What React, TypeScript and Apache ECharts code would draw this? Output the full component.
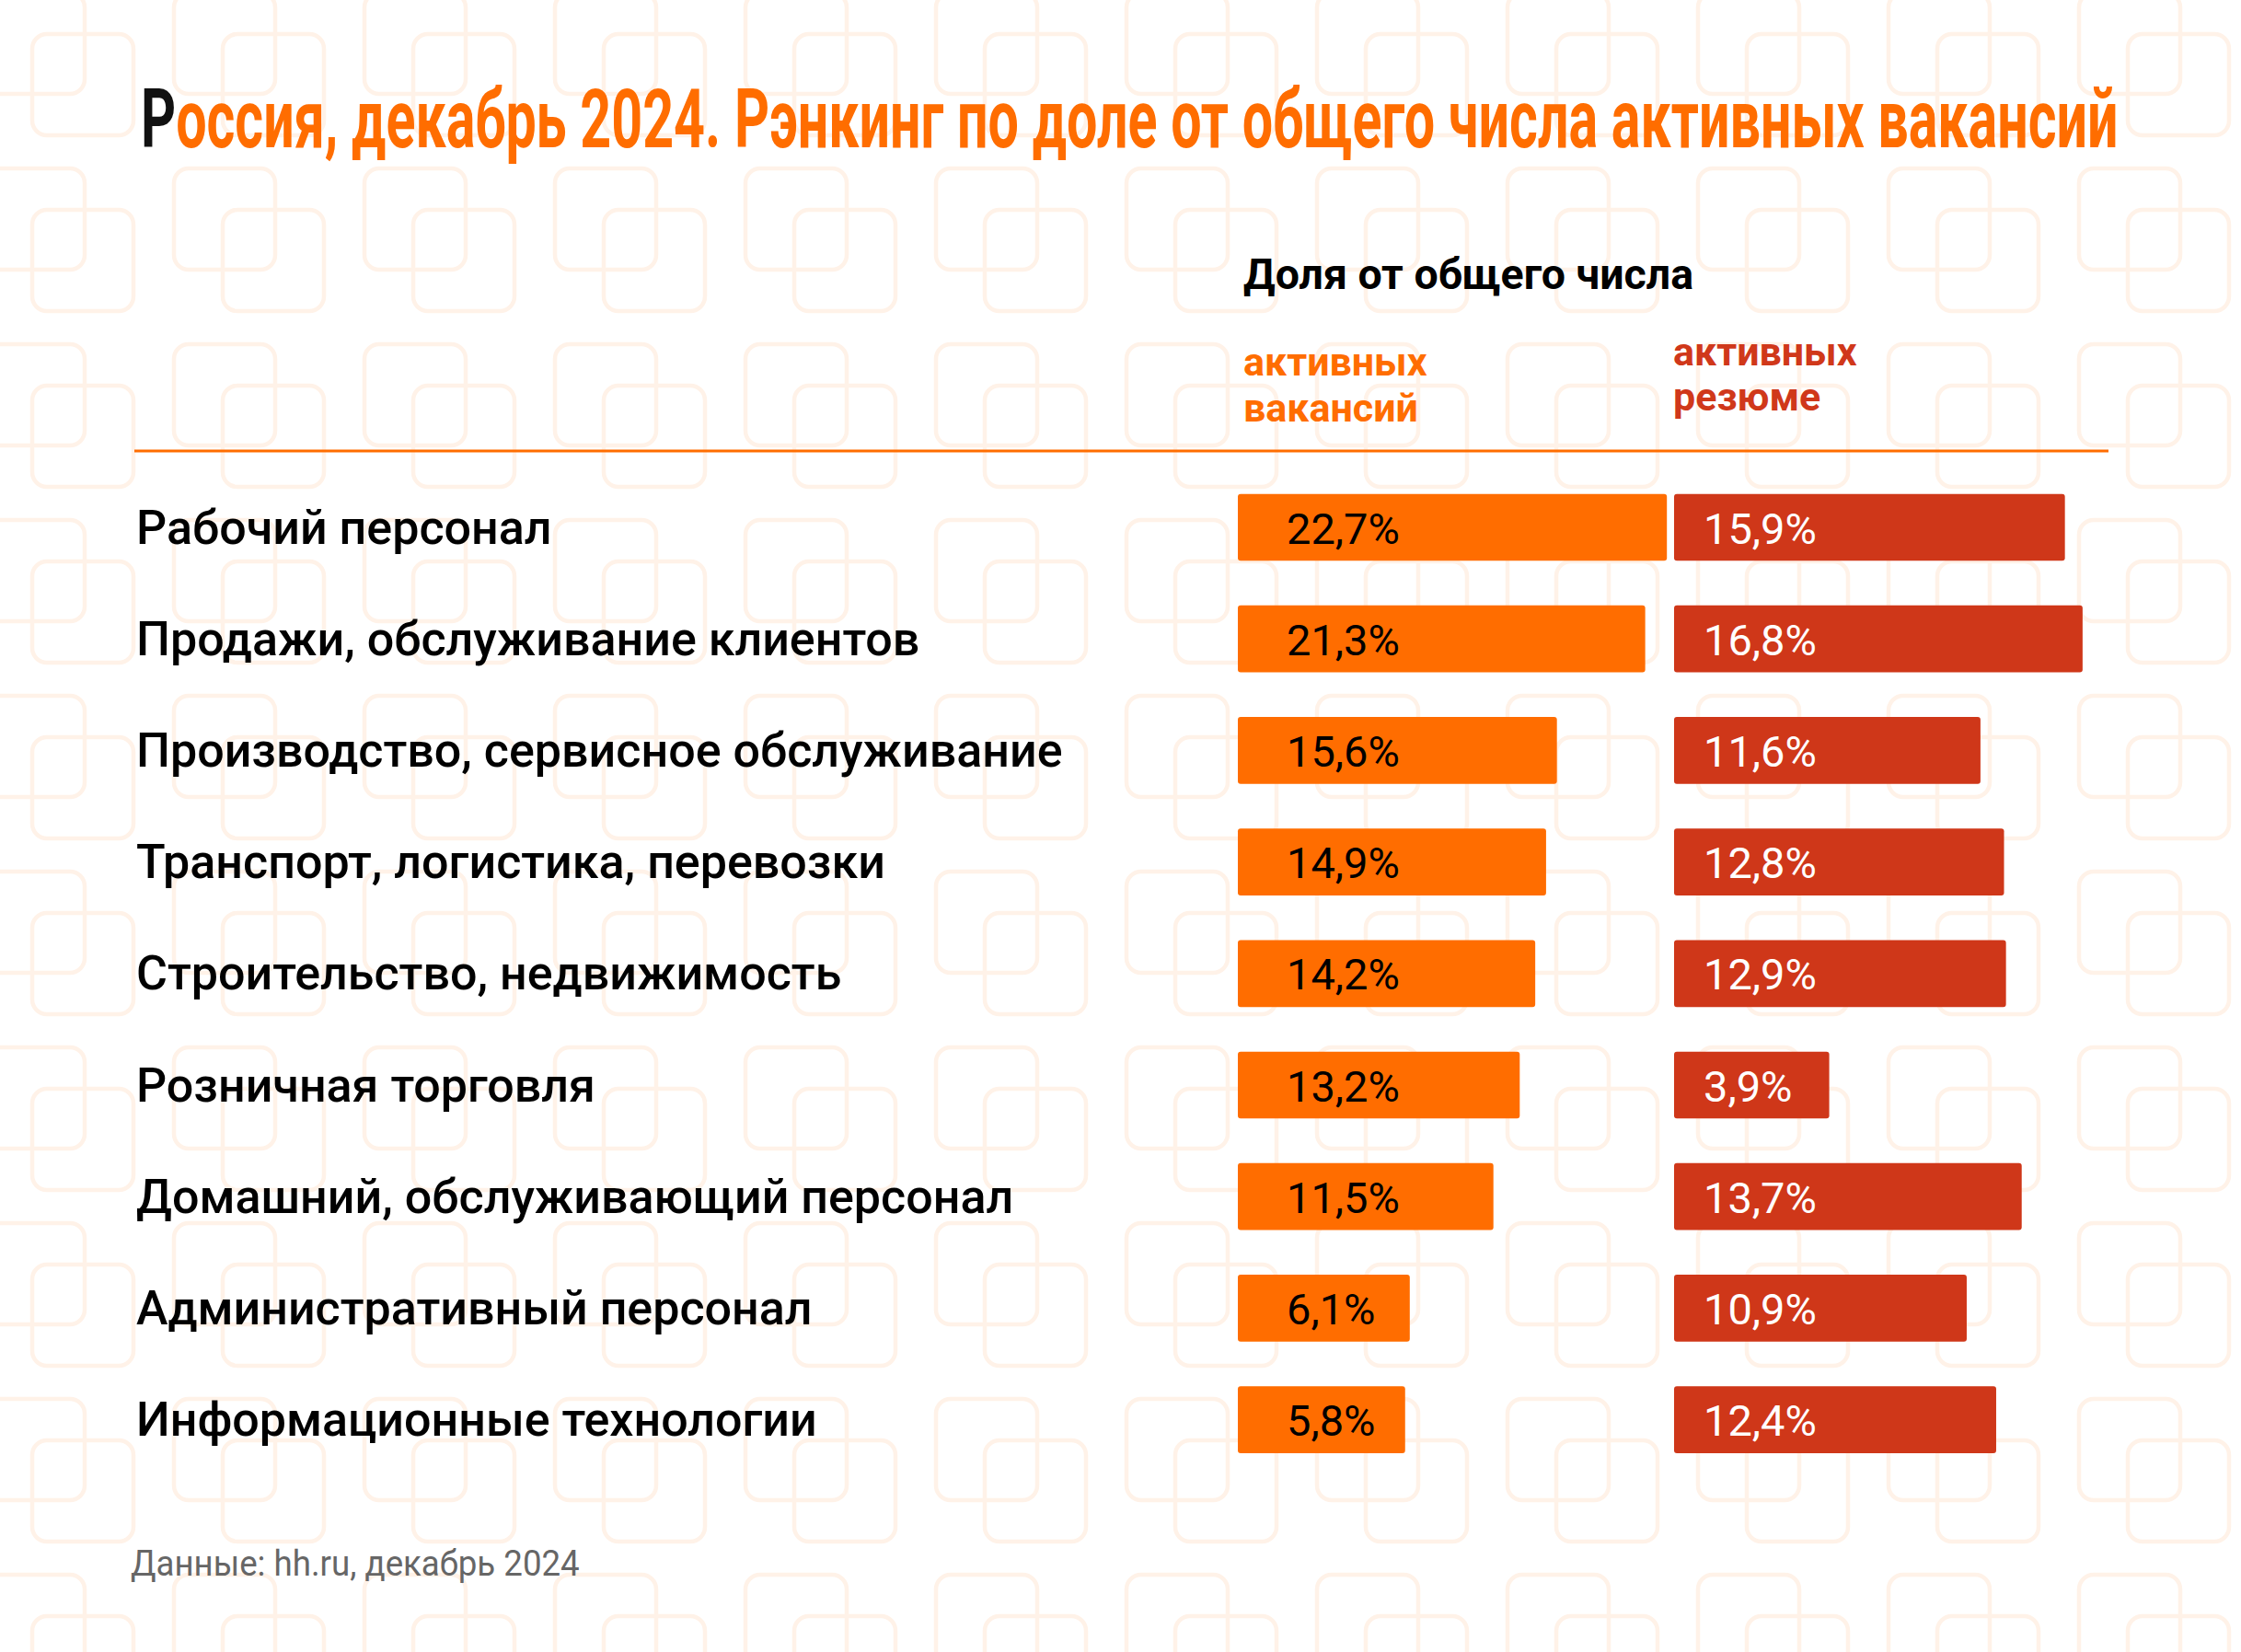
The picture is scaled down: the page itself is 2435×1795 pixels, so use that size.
import React, { useEffect, useRef } from 'react';
import * as echarts from 'echarts';

const categories = [
  'Рабочий персонал',
  'Продажи, обслуживание клиентов',
  'Производство, сервисное обслуживание',
  'Транспорт, логистика, перевозки',
  'Строительство, недвижимость',
  'Розничная торговля',
  'Домашний, обслуживающий персонал',
  'Административный персонал',
  'Информационные технологии',
];
const vacancies = [22.7, 21.3, 15.6, 14.9, 14.2, 13.2, 11.5, 6.1, 5.8];
const resumes = [15.9, 16.8, 11.6, 12.8, 12.9, 3.9, 13.7, 10.9, 12.4];

const TITLE_FIRST = 'Р';
const TITLE_REST = 'оссия, декабрь 2024. Рэнкинг по доле от общего числа активных вакансий';
const HEADER = 'Доля от общего числа';
const VAC_LINES = ['активных', 'вакансий'];
const RES_LINES = ['активных', 'резюме'];
const SOURCE = 'Данные: hh.ru, декабрь 2024';

const ORANGE = '#FF6D00';
const RED = '#CF3719';
const RED_TEXT = '#D0381A';
const PATTERN = '#FFF2E8';

const VAC_MIN = -5;
const VAC_MAX = 25;
const RES_MIN = -4;
const RES_MAX = 20;

function measure(text: string, font: string): number {
  const ctx = document.createElement('canvas').getContext('2d');
  if (!ctx) return 1;
  ctx.font = font;
  return ctx.measureText(text).width || 1;
}

const fmt = (v: number) => v.toFixed(1).replace('.', ',') + '%';

function barSeries(data: number[], idx: number, color: string, labelColor: string, labelOffset: number, axisMin: number) {
  return {
    type: 'custom',
    xAxisIndex: idx,
    yAxisIndex: idx,
    data: data.map((v, i) => [v, i]),
    encode: { x: 0, y: 1 },
    z: 5,
    renderItem: (params: any, api: any) => {
      const v = api.value(0);
      const i = api.value(1);
      const s = api.coord([axisMin, i]);
      const e = api.coord([v, i]);
      const h = api.size([0, 1])[1] * 0.6;
      return {
        type: 'group',
        children: [
          {
            type: 'rect',
            shape: { x: s[0], y: s[1] - h / 2, width: e[0] - s[0], height: h, r: 3 },
            style: { fill: color },
          },
          {
            type: 'text',
            style: {
              text: fmt(v),
              x: s[0] + labelOffset,
              y: s[1] + 1,
              align: 'left',
              verticalAlign: 'middle',
              fill: labelColor,
              fontFamily: 'Roboto',
              fontSize: 47,
              fontWeight: 400,
            },
          },
        ],
      };
    },
  };
}

export default function App() {
  const ref = useRef<HTMLDivElement>(null);
  useEffect(() => {
    if (!ref.current) return;
    const chart = echarts.init(ref.current, undefined, { renderer: 'svg' });

    const titleFont = 'bold 89px Roboto';
    const titleW = measure(TITLE_FIRST + TITLE_REST, titleFont);
    const titleScale = 2150 / titleW;
    const srcFont = '400 39px Roboto';
    const srcW = measure(SOURCE, srcFont);
    const srcScale = Math.min(1, 488 / srcW);

    const pattern: any[] = [];
    for (let col = -1; col < 13; col++) {
      for (let row = 0; row < 11; row++) {
        const ax = -18 + 207 * col;
        const ay = -8 + 191 * row;
        [[ax, ay], [ax + 53, ay + 45]].forEach(([x, y]) => {
          pattern.push({
            type: 'rect',
            silent: true,
            z: 0,
            shape: { x, y, width: 110, height: 110, r: 16 },
            style: { fill: 'none', stroke: PATTERN, lineWidth: 4.5 },
          });
        });
      }
    }

    const headerText = (text: string, x: number, y: number, color: string, size: number) => ({
      type: 'text',
      z: 3,
      x,
      y,
      style: {
        text,
        x: 0,
        y: 0,
        align: 'left',
        verticalAlign: 'middle',
        fill: color,
        fontFamily: 'Roboto',
        fontWeight: 'bold',
        fontSize: size,
      },
    });

    const gridTop = 512.4;
    const gridBottom = 1795 - 1603.2;

    chart.setOption({
      animation: false,
      backgroundColor: '#ffffff',
      graphic: [
        ...pattern,
        {
          type: 'text',
          z: 3,
          x: 153,
          y: 129,
          scaleX: titleScale,
          style: {
            text: `{a|${TITLE_FIRST}}{b|${TITLE_REST}}`,
            x: 0,
            y: 0,
            align: 'left',
            verticalAlign: 'middle',
            fontFamily: 'Roboto',
            fontWeight: 'bold',
            fontSize: 89,
            rich: {
              a: { fill: '#111111', fontFamily: 'Roboto', fontWeight: 'bold', fontSize: 89 },
              b: { fill: ORANGE, fontFamily: 'Roboto', fontWeight: 'bold', fontSize: 89 },
            },
          },
        },
        headerText(HEADER, 1351, 298, '#000000', 46.5),
        headerText(VAC_LINES[0], 1351, 393, ORANGE, 43),
        headerText(VAC_LINES[1], 1351, 443, ORANGE, 43),
        headerText(RES_LINES[0], 1818, 382, RED_TEXT, 43),
        headerText(RES_LINES[1], 1818, 431, RED_TEXT, 43),
        {
          type: 'line',
          z: 3,
          shape: { x1: 146, y1: 490, x2: 2291, y2: 490 },
          style: { stroke: ORANGE, lineWidth: 3 },
        },
        {
          type: 'text',
          z: 3,
          x: 142,
          y: 1699,
          scaleX: srcScale,
          style: {
            text: SOURCE,
            x: 0,
            y: 0,
            align: 'left',
            verticalAlign: 'middle',
            fill: '#666666',
            fontFamily: 'Roboto',
            fontWeight: 400,
            fontSize: 39,
          },
        },
      ],
      grid: [
        { left: 1345, top: gridTop, bottom: gridBottom, width: (VAC_MAX - VAC_MIN) * 16.83 },
        { left: 1819, top: gridTop, bottom: gridBottom, width: (RES_MAX - RES_MIN) * 21.34 },
      ],
      xAxis: [
        { type: 'value', gridIndex: 0, min: VAC_MIN, max: VAC_MAX, show: false },
        { type: 'value', gridIndex: 1, min: RES_MIN, max: RES_MAX, show: false },
      ],
      yAxis: [
        {
          type: 'category',
          gridIndex: 0,
          data: categories,
          inverse: true,
          axisLine: { show: false },
          axisTick: { show: false },
          splitLine: { show: false },
          axisLabel: {
            margin: 1345 - 148,
            align: 'left',
            color: '#000000',
            fontFamily: 'Roboto',
            fontWeight: 500,
            fontSize: 52,
          },
        },
        {
          type: 'category',
          gridIndex: 1,
          data: categories,
          inverse: true,
          show: false,
        },
      ],
      series: [
        barSeries(vacancies, 0, ORANGE, '#000000', 53, VAC_MIN),
        barSeries(resumes, 1, RED, '#ffffff', 32, RES_MIN),
      ],
    });
    return () => chart.dispose();
  }, []);

  return (
    <div
      ref={ref}
      style={{ position: 'fixed', left: 0, top: 0, width: 2435, height: 1795, background: '#ffffff' }}
    />
  );
}
